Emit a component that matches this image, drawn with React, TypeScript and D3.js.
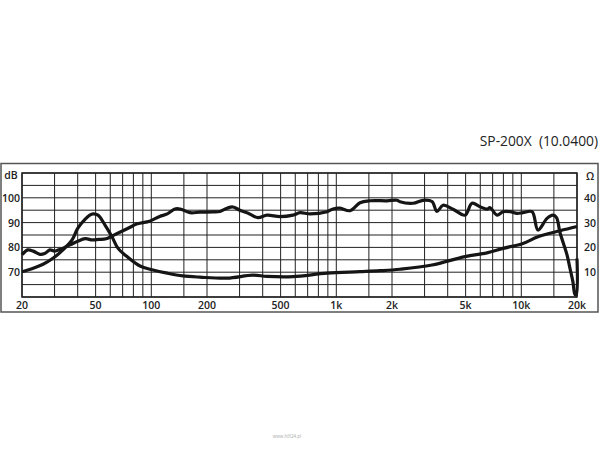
import React from "react";
import * as d3 from "d3";

const title = "SP-200X  (10.0400)";
const leftTicks = [70, 80, 90, 100];
const rightTicks = [10, 20, 30, 40];
const xTickValues = [20, 50, 100, 200, 500, 1000, 2000, 5000, 10000, 20000];
const xTickLabels = ["20", "50", "100", "200", "500", "1k", "2k", "5k", "10k", "20k"];
const gridFreqs = [
  20, 30, 40, 50, 60, 70, 80, 90, 100, 150, 200, 300, 400, 500, 600, 700, 800, 900,
  1000, 1500, 2000, 3000, 4000, 5000, 6000, 7000, 8000, 9000, 10000, 15000, 20000,
];
const gridDb = [60, 65, 70, 75, 80, 85, 90, 95, 100, 105, 110];

// SPL (dB) response
const splFreq = [
  20, 21.5, 23, 25, 26.5, 28.3, 30, 31.5, 33, 35, 37.5, 40, 44, 48, 52, 57, 61, 65, 74, 84,
  95, 101, 111, 122, 134, 143, 162, 183, 216, 235, 257, 276, 301, 340, 377, 422, 496, 583,
  637, 721, 891, 960, 1047, 1186, 1343, 1521, 1880, 2129, 2209, 2598, 2943, 3290, 3500, 3775,
  4274, 4965, 5411, 5981, 6523, 6776, 7395, 7964, 8692, 9484, 10213, 11427, 12307, 13772,
  14832, 15500, 16185, 17661, 18330, 19020, 19500, 19800, 20000,
];
const splDb = [
  77, 79, 78.5, 77.2, 77.5, 79, 78.5, 79, 79.5, 80.5, 81.5, 82.5, 83.5, 83, 83.2, 83.5, 84.5,
  85.5, 87.5, 89.5, 90.3, 91, 92.5, 93.5, 95.5, 95.5, 94, 94.2, 94.3, 94.5, 95.8, 96.3, 95,
  93.5, 92, 93, 92.4, 93, 94, 93.5, 94.4, 95.5, 95.8, 94.8, 98, 98.8, 98.8, 99, 98.4, 97.8,
  99, 98.5, 94.5, 97, 95.4, 93, 97.8, 96.4, 95.4, 96, 93, 94.4, 94.4, 93.7, 94, 94.4, 87,
  91.7, 93, 92, 86, 77, 71.5, 66, 61, 61, 75.5,
];

// Impedance (Ohm)
const impFreq = [
  20, 23, 26, 29.4, 33.3, 37.3, 40, 43.8, 46.5, 48.4, 51.5, 56.2, 61.3, 66.1, 73.9, 86.9,
  101, 122, 148, 183, 257, 354, 422, 583, 891, 1343, 1723, 2209, 3290, 4965, 6523, 7964,
  10213, 12307, 16185, 20000,
];
const impOhm = [
  10.2, 11.6, 13.2, 15.6, 19, 23, 27.7, 31.3, 33, 33.5, 33, 29, 24.3, 19.6, 16.3, 12.5, 11,
  9.6, 8.5, 8, 7.6, 8.8, 8.3, 8.2, 9.6, 10.2, 10.6, 11.2, 12.9, 16.3, 17.8, 19.6, 21.6, 24.3,
  26.7, 28.4,
];

const W = 600;
const H = 450;
const L = 22, R = 577, T = 173, B = 297;
const FONT = "'Open Sans', 'DejaVu Sans', sans-serif";

export default function App() {
  const x = d3.scaleLog().domain([20, 20000]).range([L, R]);
  const yDb = d3.scaleLinear().domain([60, 110]).range([B, T]);
  const yOhm = d3.scaleLinear().domain([0, 50]).range([B, T]);

  const splLine = d3
    .line<number>()
    .x((_, i) => x(splFreq[i]))
    .y((d) => yDb(d))
    .curve(d3.curveCatmullRom.alpha(0.5));
  const impLine = d3
    .line<number>()
    .x((_, i) => x(impFreq[i]))
    .y((d) => yOhm(d))
    .curve(d3.curveCatmullRom.alpha(0.5));

  const labelStyle = { fontFamily: FONT, fontSize: 10.5, fontWeight: 600, fill: "#222" } as const;

  return (
    <svg
      width={W}
      height={H}
      style={{ position: "absolute", left: 0, top: 0, background: "#fff" }}
    >
      <text
        x={598}
        y={146}
        textAnchor="end"
        xmlSpace="preserve"
        style={{ fontFamily: FONT, fontSize: 13.8, fill: "#222", whiteSpace: "pre" }}
      >
        {title}
      </text>
      <rect x={1} y={163.5} width={597} height={148.5} fill="none" stroke="#555" strokeWidth={1.5} />
      <g>
        {gridDb.map((d) => (
          <line key={"h" + d} x1={L} x2={R} y1={yDb(d)} y2={yDb(d)} stroke="#222" strokeWidth={1} />
        ))}
        {gridFreqs.map((f) => (
          <line key={"v" + f} x1={x(f)} x2={x(f)} y1={T} y2={B} stroke="#222" strokeWidth={1} />
        ))}
        <rect x={L} y={T} width={R - L} height={B - T} fill="none" stroke="#222" strokeWidth={1.5} />
      </g>
      <path d={impLine(impOhm) || ""} fill="none" stroke="#151515" strokeWidth={3.2} strokeLinejoin="round" />
      <path d={splLine(splDb) || ""} fill="none" stroke="#151515" strokeWidth={3.2} strokeLinejoin="round" />
      <text x={11} y={179} textAnchor="middle" style={labelStyle}>dB</text>
      {leftTicks.map((d) => (
        <text key={"l" + d} x={20} y={yDb(d) + 4} textAnchor="end" style={labelStyle}>
          {d}
        </text>
      ))}
      <text x={590} y={180} textAnchor="middle" style={labelStyle}>Ω</text>
      {rightTicks.map((d) => (
        <text key={"r" + d} x={584} y={yOhm(d) + 4} textAnchor="start" style={labelStyle}>
          {d}
        </text>
      ))}
      {xTickValues.map((f, i) => (
        <text key={"x" + f} x={x(f)} y={309} textAnchor="middle" style={labelStyle}>
          {xTickLabels[i]}
        </text>
      ))}
      <text x={287} y={438} textAnchor="middle" style={{ fontFamily: FONT, fontSize: 4.5, fill: "#aaa" }}>
        www.hifi24.pl
      </text>
    </svg>
  );
}
